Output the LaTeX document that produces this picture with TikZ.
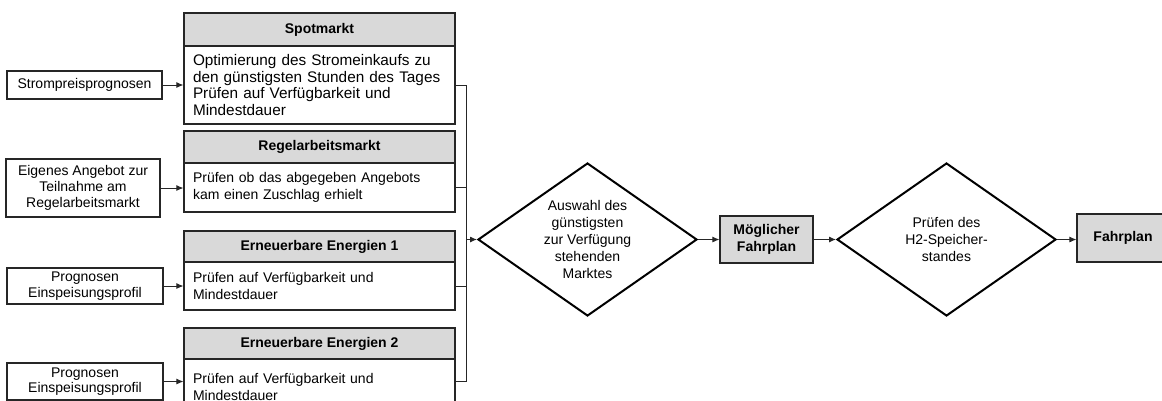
\documentclass[tikz,border=0pt]{standalone}
\usepackage{fontspec}
\setmainfont{Liberation Sans}
\usetikzlibrary{shapes.geometric,arrows.meta,calc}
\definecolor{hgray}{HTML}{D9D9D9}
\definecolor{edge}{HTML}{262626}
\begin{document}
\begin{tikzpicture}[x=0.75pt,y=-0.75pt,
  box/.style={draw=edge, line width=0.8pt, inner sep=0pt, align=center,
    font=\fontsize{10.5}{11.75}\selectfont},
  hdr/.style={box, fill=hgray, minimum width=203.25pt,
    font=\fontsize{10.5}{12.5}\selectfont\bfseries},
  bodybox/.style={box, minimum width=203.25pt, inner xsep=6.75pt,
    text width=189.75pt, align=left, font=\fontsize{10.5}{12.5}\selectfont},
  inbox/.style={box},
  dia/.style={draw=black, line width=1.5pt, diamond, inner sep=0pt,
    minimum width=164.25pt, minimum height=114.75pt},
  diatext/.style={align=center, inner sep=0pt, font=\fontsize{10.5}{12.7}\selectfont},
  resbox/.style={box, fill=hgray, font=\fontsize{10.5}{12.75}\selectfont\bfseries},
  conn/.style={draw=edge, line width=0.75pt},
  arr/.style={conn, -{Latex[length=5.25pt,width=4.5pt]}}
]
\useasboundingbox (0,0) rectangle (1162,400);

% market blocks
\node[hdr, minimum height=24.75pt] (hS) at (319.5,29.5) {Spotmarkt};
\node[bodybox, minimum height=58.5pt, font=\fontsize{11.5}{12.6}\selectfont] (bS) at (319.5,85)
  {Optimierung des Stromeinkaufs zu\\den günstigsten Stunden des Tages\\Prüfen auf Verfügbarkeit und\\Mindestdauer};

\node[hdr, minimum height=24pt] (hR) at (319.5,147) {Regelarbeitsmarkt};
\node[bodybox, minimum height=36.75pt] (bR) at (319.5,187.5)
  {Prüfen ob das abgegeben Angebots\\kam einen Zuschlag erhielt};

\node[hdr, minimum height=23.25pt] (hE1) at (319.5,246.5) {Erneuerbare Energien 1};
\node[bodybox, minimum height=36pt] (bE1) at (319.5,286)
  {Prüfen auf Verfügbarkeit und\\Mindestdauer};

\node[hdr, minimum height=23.25pt] (hE2) at (319.5,343.5) {Erneuerbare Energien 2};
\node[bodybox, minimum height=42pt] (bE2) at (319.5,387)
  {Prüfen auf Verfügbarkeit und\\Mindestdauer};

% input boxes
\node[inbox, minimum width=116.25pt, minimum height=21pt] (s) at (84.5,85) {Strompreisprognosen};
\node[inbox, minimum width=115.5pt, minimum height=43.5pt] (e) at (83,188)
  {Eigenes Angebot zur\\Teilnahme am\\Regelarbeitsmarkt};
\node[inbox, minimum width=117pt, minimum height=27pt] (p1) at (85,286)
  {Prognosen\\Einspeisungsprofil};
\node[inbox, minimum width=117pt, minimum height=27.75pt] (p2) at (85,381.5)
  {Prognosen\\Einspeisungsprofil};

% decisions and results
\node[dia] (d1) at (587.5,239.5) {};
\node[diatext] (t1) at (d1.center) {Auswahl des\\günstigsten\\zur Verfügung\\stehenden\\Marktes};
\node[resbox, minimum width=69.75pt, minimum height=35.25pt] (m) at (766.5,239.5) {Möglicher\\Fahrplan};
\node[dia] (d2) at (946.5,239.5) {};
\node[diatext] (t2) at (d2.center) {Prüfen des\\H2-Speicher-\\standes};
\node[resbox, minimum width=69pt, minimum height=36pt] (f) at (1123,238) {Fahrplan};

% connectors
\coordinate (bus) at (466,239.5);
\draw[arr] (s.east) -- (s.east -| bS.west);
\draw[arr] (e.east) -- (e.east -| bR.west);
\draw[arr] (p1.east) -- (p1.east -| bE1.west);
\draw[arr] (p2.east) -- (p2.east -| bE2.west);

\draw[conn] (bS.east) -| (bus |- p2.east) -- (bE2.east |- p2.east);
\draw[conn] (bR.east) -- (bR.east -| bus);
\draw[conn] (bE1.east) -- (bE1.east -| bus);
\draw[arr] (bus) -- (d1.west);
\draw[arr] (d1.east) -- (m.west);
\draw[arr] (m.east) -- (d2.west);
\draw[arr] (d2.east) -- (d2.east -| f.west);
\end{tikzpicture}
\end{document}
